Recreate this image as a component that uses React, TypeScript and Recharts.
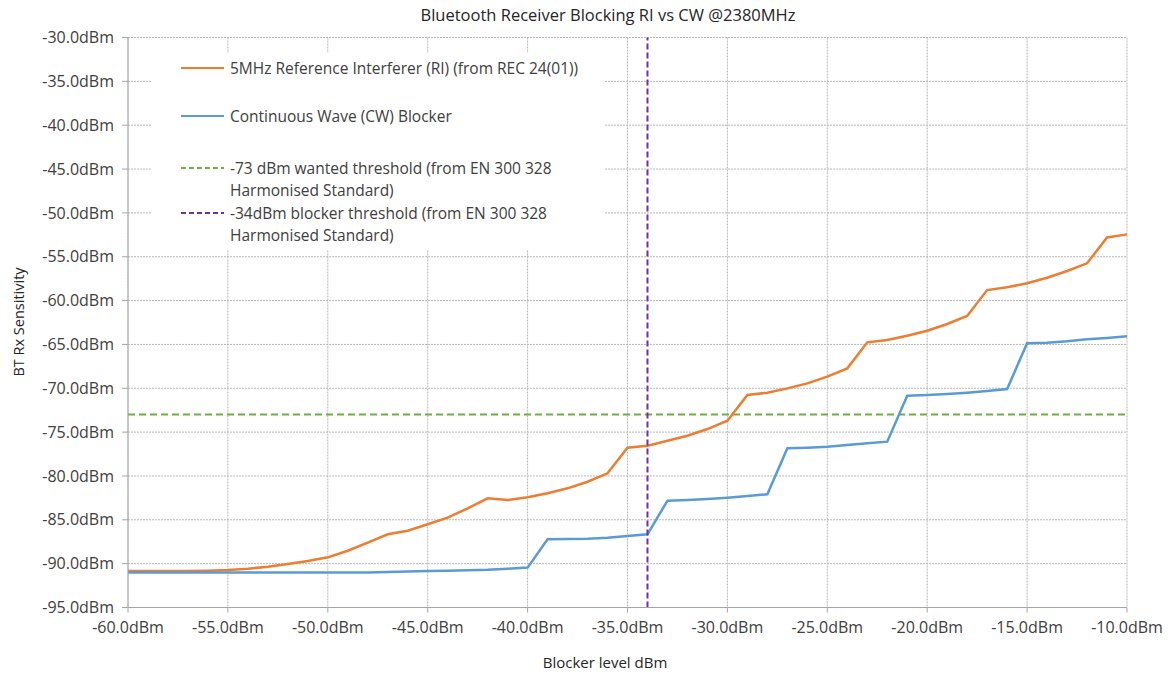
import { LineChart, Line, XAxis, YAxis, CartesianGrid, ReferenceLine } from 'recharts';

// blocker level (dBm) on the x axis
const levels = [
  -60, -59, -58, -57, -56, -55, -54, -53, -52, -51,
  -50, -49, -48, -47, -46, -45, -44, -43, -42, -41,
  -40, -39, -38, -37, -36, -35, -34, -33, -32, -31,
  -30, -29, -28, -27, -26, -25, -24, -23, -22, -21,
  -20, -19, -18, -17, -16, -15, -14, -13, -12, -11, -10,
];

// 5MHz reference interferer (RI)
const riSensitivity = [
  -90.85, -90.85, -90.84, -90.83, -90.8, -90.72, -90.58, -90.35, -90.04, -89.7,
  -89.28, -88.53, -87.6, -86.65, -86.24, -85.51, -84.76, -83.69, -82.55, -82.74,
  -82.43, -81.98, -81.41, -80.66, -79.7, -76.78, -76.55, -75.98, -75.41, -74.65,
  -73.7, -70.77, -70.51, -70.01, -69.44, -68.68, -67.73, -64.76, -64.5, -64.01,
  -63.44, -62.67, -61.76, -58.8, -58.49, -58.03, -57.39, -56.63, -55.75, -52.8, -52.45,
];

// continuous wave (CW) blocker
const cwSensitivity = [
  -91.0, -91.0, -91.0, -91.0, -91.0, -91.0, -91.0, -91.0, -91.0, -91.0,
  -91.0, -91.0, -91.0, -90.95, -90.9, -90.85, -90.8, -90.75, -90.7, -90.58,
  -90.45, -87.22, -87.2, -87.15, -87.04, -86.85, -86.65, -82.82, -82.74, -82.63,
  -82.48, -82.29, -82.09, -76.85, -76.78, -76.67, -76.47, -76.28, -76.09, -70.85,
  -70.77, -70.66, -70.51, -70.32, -70.09, -64.87, -64.8, -64.64, -64.42, -64.27, -64.07,
];

const xTicks = [-60, -55, -50, -45, -40, -35, -30, -25, -20, -15, -10];
const yTicks = [-95, -90, -85, -80, -75, -70, -65, -60, -55, -50, -45, -40, -35, -30];

const wantedThreshold = -73;
const blockerThreshold = -34;

const legendItems = [
  { color: '#ED7D31', dashed: false, lines: ['5MHz Reference Interferer (RI) (from REC 24(01))'] },
  { color: '#5B9BD5', dashed: false, lines: ['Continuous Wave (CW) Blocker'] },
  { color: '#70AD47', dashed: true, lines: ['-73 dBm wanted threshold (from EN 300 328', 'Harmonised Standard)'] },
  { color: '#7030A0', dashed: true, lines: ['-34dBm blocker threshold (from EN 300 328', 'Harmonised Standard)'] },
];

const data = levels.map((lvl, i) => ({
  level: lvl,
  ri: riSensitivity[i],
  cw: cwSensitivity[i],
}));

const FONT = '"Open Sans", "Liberation Sans", sans-serif';
const fmt = (v: number) => `${v.toFixed(1)}dBm`;

export default function App() {
  return (
    <div style={{ position: 'absolute', left: 0, top: 0, width: 1168, height: 674, background: '#fff', fontFamily: FONT }}>
      <div style={{ position: 'absolute', left: 0, width: 1216, top: 3, textAlign: 'center', fontSize: 16.5, color: '#262626' }}>
        Bluetooth Receiver Blocking RI vs CW @2380MHz
      </div>
      <div style={{ position: 'absolute', left: 18, top: 322, transform: 'translate(-50%, -50%) rotate(-90deg)', fontSize: 14.5, color: '#262626', whiteSpace: 'nowrap' }}>
        BT Rx Sensitivity
      </div>
      <div style={{ position: 'absolute', left: 0, width: 1210, top: 652, textAlign: 'center', fontSize: 15, color: '#262626' }}>
        Blocker level dBm
      </div>
      <LineChart width={1168} height={674} data={data} margin={{ top: 37.5, right: 41, bottom: 36.5, left: 0 }}>
        <CartesianGrid stroke="#b8b8b8" strokeDasharray="2 1" strokeWidth={1} />
        <XAxis
          dataKey="level"
          type="number"
          domain={[-60, -10]}
          ticks={xTicks}
          tickFormatter={fmt}
          height={30}
          tickSize={5}
          tickMargin={9}
          stroke="#a6a6a6"
          tick={{ fill: '#404040', fontSize: 16, fontFamily: FONT }}
          interval={0}
        />
        <YAxis
          type="number"
          domain={[-95, -30]}
          ticks={yTicks}
          tickFormatter={fmt}
          width={128}
          tickSize={6}
          tickMargin={8}
          stroke="#a6a6a6"
          tick={{ fill: '#404040', fontSize: 16, fontFamily: FONT }}
          interval={0}
        />
        <ReferenceLine y={wantedThreshold} stroke="#70AD47" strokeWidth={2} strokeDasharray="7 4" />
        <Line type="linear" dataKey="ri" stroke="#ED7D31" strokeWidth={2.5} dot={false} isAnimationActive={false} />
        <Line type="linear" dataKey="cw" stroke="#5B9BD5" strokeWidth={2.5} dot={false} isAnimationActive={false} />
        <ReferenceLine x={blockerThreshold} stroke="#7030A0" strokeWidth={2} strokeDasharray="6 3" />
      </LineChart>
      <div style={{ position: 'absolute', left: 151, top: 53, width: 453, height: 197, background: '#fff', fontSize: 15.5, color: '#404040' }}>
        {legendItems.map((item, i) => (
          <div key={i} style={{ position: 'absolute', left: 30, top: [4, 52, 104, 149][i], display: 'flex' }}>
            <svg width={49} height={22} style={{ flex: 'none' }}>
              <line x1={0} x2={43} y1={11} y2={11} stroke={item.color} strokeWidth={2}
                strokeDasharray={item.dashed ? '5 3' : undefined} />
            </svg>
            <div style={{ whiteSpace: 'nowrap' }}>
              {item.lines.map((l, j) => <div key={j} style={{ lineHeight: j ? '23px' : '22px' }}>{l}</div>)}
            </div>
          </div>
        ))}
      </div>
    </div>
  );
}
